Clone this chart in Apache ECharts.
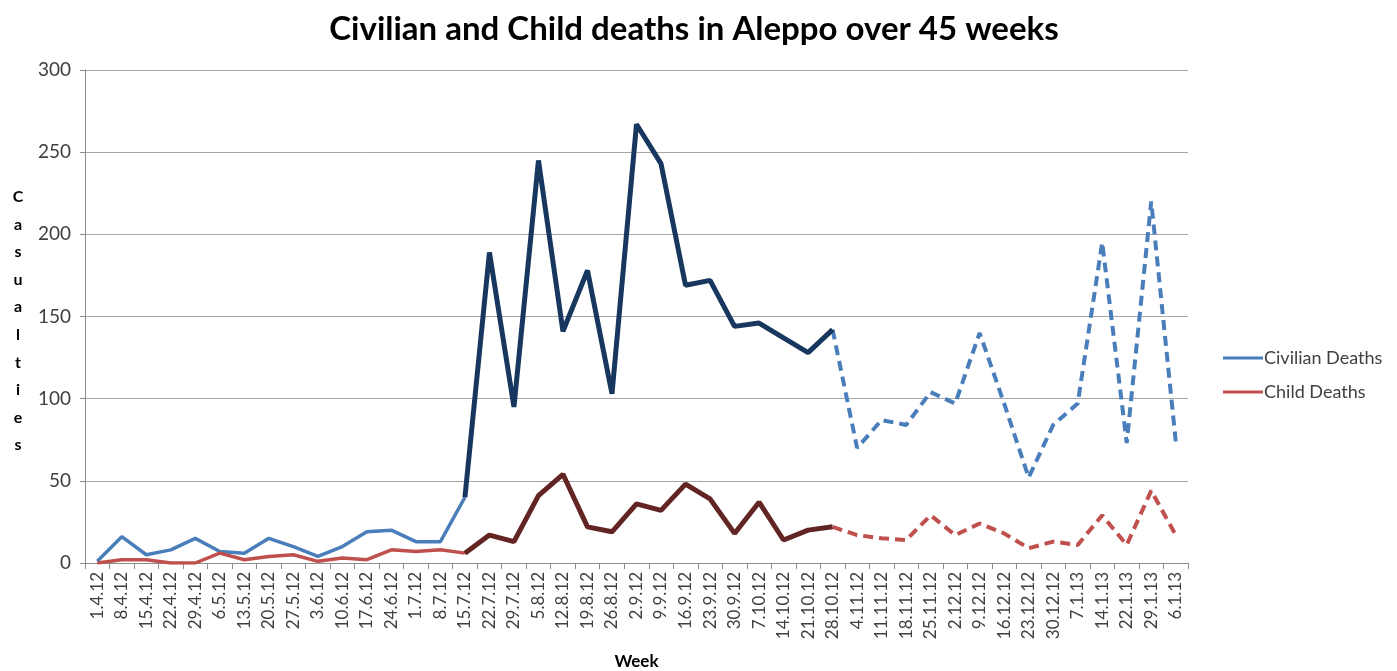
<!DOCTYPE html>
<html>
<head>
<meta charset="utf-8">
<script src="https://cdn.jsdelivr.net/npm/echarts@6/dist/echarts.min.js"></script>
<style>
html,body{margin:0;padding:0;background:#fff;}
#chart{width:1397px;height:671px;}
</style>
</head>
<body>
<div id="chart"></div>
<script>
const weeks = ['1.4.12','8.4.12','15.4.12','22.4.12','29.4.12','6.5.12','13.5.12','20.5.12','27.5.12','3.6.12','10.6.12','17.6.12','24.6.12','1.7.12','8.7.12','15.7.12','22.7.12','29.7.12','5.8.12','12.8.12','19.8.12','26.8.12','2.9.12','9.9.12','16.9.12','23.9.12','30.9.12','7.10.12','14.10.12','21.10.12','28.10.12','4.11.12','11.11.12','18.11.12','25.11.12','2.12.12','9.12.12','16.12.12','23.12.12','30.12.12','7.1.13','14.1.13','22.1.13','29.1.13','6.1.13'];
const civilianDeaths = [1,16,5,8,15,7,6,15,10,4,10,19,20,13,13,40,189,95,245,141,178,103,267,243,169,172,144,146,137,128,142,70,87,84,104,97,140,97,52,84,97,195,73,220,74];
const childDeaths = [0,2,2,0,0,6,2,4,5,1,3,2,8,7,8,6,17,13,41,54,22,19,36,32,48,39,18,37,14,20,22,17,15,14,29,17,24,18,9,13,11,29,11,44,17];
const yTicks = [0,50,100,150,200,250,300];
const peakStart = 15, peakEnd = 30;

function seg(arr, from, to){ return arr.map((v,i)=> (i>=from && i<=to) ? v : null); }

const font = 'Lato, "Open Sans", sans-serif';
const chart = echarts.init(document.getElementById('chart'));
const last = weeks.length - 1;

chart.setOption({
  animation:false,
  backgroundColor:'#ffffff',
  title:{
    text:'Civilian and Child deaths in Aleppo over 45 weeks',
    left:689, top:8, textAlign:'center',
    textStyle:{fontFamily:font, fontWeight:'bold', fontSize:33, color:'#000'}
  },
  legend:{
    orient:'vertical', left:1218, top:344,
    itemWidth:40, itemHeight:3, itemGap:16, icon:'rect',
    data:['Civilian Deaths','Child Deaths'],
    textStyle:{fontFamily:font, fontSize:18, color:'#404040', padding:[0,0,0,-4]}
  },
  graphic:[{
    type:'text', x:18, y:183,
    style:{text:'C\na\ns\nu\na\nl\nt\ni\ne\ns', textAlign:'center', lineHeight:27.6,
      font:'bold 16px ' + font, fill:'#000'}
  }],
  grid:{left:85, right:209, top:70, bottom:108, containLabel:false, outerBoundsMode:'none'},
  xAxis:{
    type:'category', data:weeks, boundaryGap:true,
    name:'Week', nameLocation:'middle', nameGap:90,
    nameTextStyle:{fontFamily:font, fontWeight:'bold', fontSize:17, color:'#000'},
    axisLine:{lineStyle:{color:'#8c8c8c', width:1}},
    axisTick:{show:true, length:6, lineStyle:{color:'#8c8c8c'}},
    axisLabel:{rotate:90, interval:0, fontFamily:font, fontSize:17, color:'#404040', margin:9}
  },
  yAxis:{
    type:'value', min:yTicks[0], max:yTicks[yTicks.length-1], interval:50,
    axisLine:{show:true, lineStyle:{color:'#8c8c8c', width:1}},
    axisTick:{show:true, length:5, lineStyle:{color:'#8c8c8c'}},
    axisLabel:{fontFamily:font, fontSize:19, color:'#404040', margin:14},
    splitLine:{lineStyle:{color:'#a6a6a6', width:1}}
  },
  series:[
    {name:'Civilian Deaths', type:'line', data:seg(civilianDeaths,0,peakStart), showSymbol:false, symbol:'none',
      lineStyle:{color:'#4a7ebb', width:3.5}, itemStyle:{color:'#4a7ebb'}, z:3},
    {name:'Child Deaths', type:'line', data:seg(childDeaths,0,peakStart), showSymbol:false, symbol:'none',
      lineStyle:{color:'#c0504d', width:3.5}, itemStyle:{color:'#c0504d'}, z:3},
    {name:'Civilian Deaths (peak)', type:'line', data:seg(civilianDeaths,peakStart,peakEnd), showSymbol:false, symbol:'none',
      lineStyle:{color:'#17375e', width:5}, itemStyle:{color:'#17375e'}, z:4},
    {name:'Child Deaths (peak)', type:'line', data:seg(childDeaths,peakStart,peakEnd), showSymbol:false, symbol:'none',
      lineStyle:{color:'#632523', width:5}, itemStyle:{color:'#632523'}, z:4},
    {name:'Civilian Deaths (later)', type:'line', data:seg(civilianDeaths,peakEnd,last), showSymbol:false, symbol:'none',
      lineStyle:{color:'#4a7ebb', width:4, type:[10,6]}, itemStyle:{color:'#4a7ebb'}, z:3},
    {name:'Child Deaths (later)', type:'line', data:seg(childDeaths,peakEnd,last), showSymbol:false, symbol:'none',
      lineStyle:{color:'#c0504d', width:4, type:[10,6]}, itemStyle:{color:'#c0504d'}, z:3}
  ]
});
</script>
</body>
</html>
